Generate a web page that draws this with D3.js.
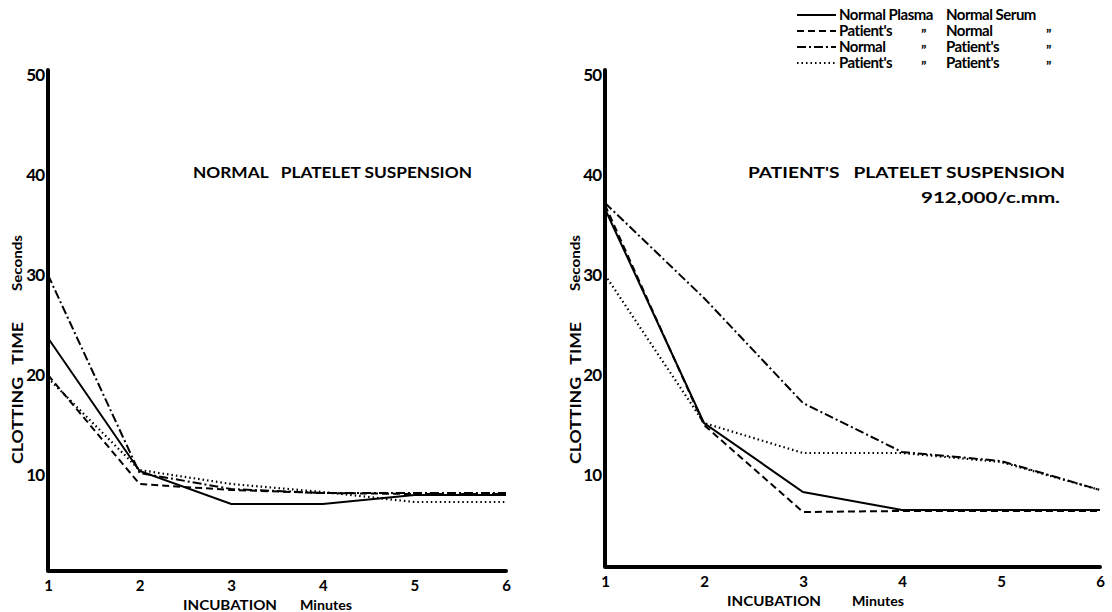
<!DOCTYPE html>
<html>
<head>
<meta charset="utf-8">
<script src="https://cdn.jsdelivr.net/npm/d3@7"></script>
<style>
  body { margin: 0; background: #fff; }
  text { font-family: Lato, "Liberation Sans", sans-serif; fill: #000; white-space: pre; }
</style>
</head>
<body>
<div id="chart"></div>
<script>
// incubation minutes and y ticks
const minutes = [1, 2, 3, 4, 5, 6];
const yTicks = [10, 20, 30, 40, 50];

// left panel - normal platelet suspension (plasma / serum)
const leftNormalNormal = [23.7, 10.4, 7.1, 7.1, 8.0, 8.0];
const leftPatientNormal = [20.0, 9.1, 8.5, 8.2, 8.1, 8.1];
const leftNormalPatient = [30.0, 10.2, 8.6, 8.2, 8.2, 8.2];
const leftPatientPatient = [19.7, 10.5, 9.1, 8.3, 7.3, 7.3];

// right panel - patient's platelet suspension
const rightNormalNormal = [36.6, 15.2, 8.3, 6.5, 6.5, 6.5];
const rightPatientNormal = [37.0, 15.0, 6.3, 6.4, 6.4, 6.4];
const rightNormalPatient = [37.2, 27.7, 17.2, 12.3, 11.4, 8.5];
const rightPatientPatient = [30.0, 15.2, 12.2, 12.2, 11.3, 8.5];

// legend text
const legendPlasma = ["Normal Plasma", "Patient's", "Normal", "Patient's"];
const legendSerum = ["Normal Serum", "Normal", "Patient's", "Patient's"];

const dashes = [null, "7,4", "9,3,2,3", "1.5,3"];

const width = 1112, height = 612;

const svg = d3.select("#chart")
  .append("svg")
  .attr("width", width)
  .attr("height", height);

// same vertical scale for both panels
const y = d3.scaleLinear().domain([0, 50]).range([575, 75]);

const panels = [
  {
    x0: 48, x1: 506, base: 571, labX: 17,
    title: "NORMAL   PLATELET SUSPENSION", tx: 193, tw: 279,
    series: [leftNormalNormal, leftPatientNormal, leftNormalPatient, leftPatientPatient],
    incX: 183, minX: 300
  },
  {
    x0: 605, x1: 1100, base: 567, labX: 575,
    title: "PATIENT'S   PLATELET SUSPENSION", tx: 748, tw: 317,
    series: [rightNormalNormal, rightPatientNormal, rightNormalPatient, rightPatientPatient],
    incX: 727, minX: 852
  }
];

panels.forEach((p, pi) => {
  const x = d3.scaleLinear().domain([1, 6]).range([p.x0, p.x1]);
  const g = svg.append("g");

  // y tick labels
  const ya = g.append("g")
    .attr("transform", `translate(${p.x0},0)`)
    .call(d3.axisLeft(y).tickValues(yTicks).tickSize(0).tickPadding(4));
  ya.select(".domain").remove();
  ya.selectAll("text")
    .style("font-size", "17px")
    .style("font-weight", "bold")
    .style("letter-spacing", "-1px")
    .attr("fill", "#000");

  // x tick labels
  const xa = g.append("g")
    .attr("transform", `translate(0,${p.base})`)
    .call(d3.axisBottom(x).tickValues(minutes).tickFormat(d3.format("d")).tickSize(0).tickPadding(9));
  xa.select(".domain").remove();
  xa.selectAll("text")
    .style("font-size", "15px")
    .style("font-weight", "bold")
    .attr("fill", "#000");

  // heavy axis frame
  g.append("path")
    .attr("d", `M${p.x0},${y(50.5)}V${p.base}H${p.x1}`)
    .attr("fill", "none")
    .attr("stroke", "#000")
    .attr("stroke-width", 4)
    .attr("stroke-linejoin", "round")
    .attr("stroke-linecap", "round");

  // the four curves
  const line = d3.line().x((d, i) => x(minutes[i])).y(d => y(d));
  p.series.forEach((s, si) => {
    g.append("path")
      .datum(s)
      .attr("fill", "none")
      .attr("stroke", "#000")
      .attr("stroke-width", si == 3 ? 2.2 : 2)
      .attr("stroke-dasharray", dashes[si])
      .attr("d", line);
  });

  // titles
  g.append("text")
    .attr("x", p.tx).attr("y", 178)
    .attr("textLength", p.tw).attr("lengthAdjust", "spacingAndGlyphs")
    .style("font-size", "15px").style("font-weight", "bold")
    .text(p.title);
  if (pi == 1) {
    g.append("text")
      .attr("x", 921).attr("y", 203)
      .attr("textLength", 139).attr("lengthAdjust", "spacingAndGlyphs")
      .style("font-size", "15px").style("font-weight", "bold")
      .text("912,000/c.mm.");
  }

  // y axis label
  g.append("text")
    .attr("transform", `translate(${p.labX + 6},393) rotate(-90)`)
    .attr("text-anchor", "middle")
    .attr("textLength", 142).attr("lengthAdjust", "spacingAndGlyphs")
    .style("font-size", "16px").style("font-weight", "bold")
    .text("CLOTTING   TIME");
  g.append("text")
    .attr("transform", `translate(${p.labX + 5},263) rotate(-90)`)
    .attr("text-anchor", "middle")
    .attr("textLength", 56).attr("lengthAdjust", "spacingAndGlyphs")
    .style("font-size", "13px").style("font-weight", "bold")
    .text("Seconds");

  // x axis label
  g.append("text")
    .attr("x", p.incX).attr("y", p.base + 39)
    .attr("textLength", 94).attr("lengthAdjust", "spacingAndGlyphs")
    .style("font-size", "14px").style("font-weight", "bold")
    .text("INCUBATION");
  g.append("text")
    .attr("x", p.minX).attr("y", p.base + 39)
    .attr("textLength", 52).attr("lengthAdjust", "spacingAndGlyphs")
    .style("font-size", "14px").style("font-weight", "bold")
    .text("Minutes");
});

// legend, top right
const legend = svg.append("g");
const rowY = [15, 31, 47, 63];
legendPlasma.forEach((t, i) => {
  const row = legend.append("g").attr("transform", `translate(0,${rowY[i]})`);
  row.append("line")
    .attr("x1", 797).attr("x2", 836)
    .attr("stroke", "#000")
    .attr("stroke-width", i == 0 ? 2.2 : 1.8)
    .attr("stroke-dasharray", dashes[i]);
  row.append("text")
    .attr("x", 839).attr("dy", "0.35em")
    .style("font-size", "15px").style("font-weight", "bold")
    .style("letter-spacing", "-0.5px")
    .text(t);
  row.append("text")
    .attr("x", 946).attr("dy", "0.35em")
    .style("font-size", "15px").style("font-weight", "bold")
    .style("letter-spacing", "-0.5px")
    .text(legendSerum[i]);
  if (i > 0) {
    row.append("text").attr("x", 921).attr("dy", "0.6em")
      .style("font-size", "14px").style("font-weight", "bold").text("\u201D");
    row.append("text").attr("x", 1046).attr("dy", "0.6em")
      .style("font-size", "14px").style("font-weight", "bold").text("\u201D");
  }
});
</script>
</body>
</html>
